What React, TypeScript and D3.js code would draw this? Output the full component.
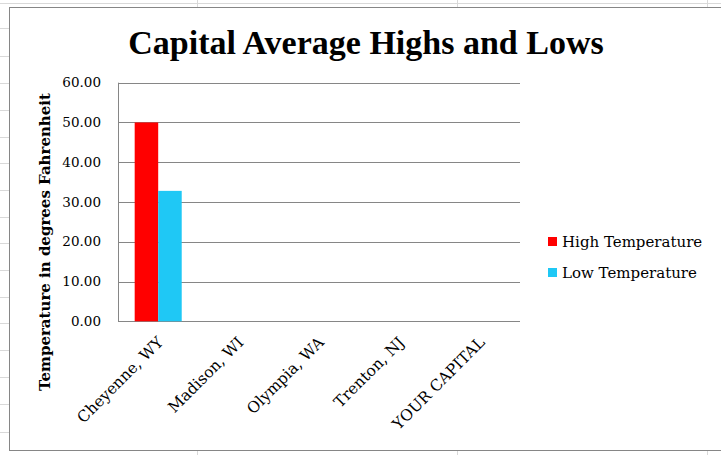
import React from "react";
import * as d3 from "d3";

const categories = ["Cheyenne, WY", "Madison, WI", "Olympia, WA", "Trenton, NJ", "YOUR CAPITAL"];
const highTemps: (number | null)[] = [50.0, null, null, null, null];
const lowTemps: (number | null)[] = [32.8, null, null, null, null];
const seriesNames = ["High Temperature", "Low Temperature"];
const seriesColors = ["#ff0000", "#1fc8f5"];
const yTicks = [0, 10, 20, 30, 40, 50, 60];
const sheetRows = [3, 28, 56, 83, 110, 137, 163, 190, 217, 243, 270, 297, 323, 350, 377, 404, 432];
const sheetCols = [197, 457, 707];

const W = 721;
const H = 455;
const titleFont = "'Liberation Serif', 'Times New Roman', serif";
const font = "'DejaVu Serif', serif";

export default function App() {
  const plot = { left: 118, right: 520, top: 82.7, bottom: 321.3 };
  const p = 0.415;
  const x0 = d3.scaleBand<string>().domain(categories).range([plot.left, plot.right]).paddingInner(p).paddingOuter(p / 2);
  const x1 = d3.scaleBand<string>().domain(seriesNames).range([0, x0.bandwidth()]);
  const y = d3.scaleLinear().domain([0, 60]).range([plot.bottom, plot.top]);
  const series = [highTemps, lowTemps];
  const grid = "#868686";

  return (
    <svg width={W} height={H} style={{ position: "absolute", left: 0, top: 0, background: "#fff" }} fontFamily={font}>
      {/* spreadsheet background */}
      {sheetRows.map((r) => (
        <line key={"r" + r} x1={0} x2={W} y1={r + 0.5} y2={r + 0.5} stroke="#d9d9d9" />
      ))}
      {sheetCols.map((c) => (
        <line key={"c" + c} x1={c + 0.5} x2={c + 0.5} y1={0} y2={H} stroke="#d9d9d9" />
      ))}
      {/* chart frame */}
      <rect x={9.5} y={7.5} width={W + 20} height={443} fill="#fff" stroke="#868686" />

      {/* title */}
      <text x={366} y={54} textAnchor="middle" fontSize={34} fontWeight="bold" fill="#000" fontFamily={titleFont}>
        Capital Average Highs and Lows
      </text>

      {/* gridlines */}
      {yTicks.map((t) => (
        <line key={"g" + t} x1={plot.left} x2={plot.right} y1={Math.round(y(t)) + 0.5} y2={Math.round(y(t)) + 0.5} stroke={grid} strokeWidth={1} />
      ))}
      <line x1={plot.left + 0.5} x2={plot.left + 0.5} y1={y(60)} y2={y(0)} stroke={grid} />

      {/* y tick labels */}
      {yTicks.map((t) => (
        <text key={"yt" + t} x={101} y={y(t) + 4.5} textAnchor="end" fontSize={13.5} fill="#000">
          {d3.format(".2f")(t)}
        </text>
      ))}

      {/* y axis title */}
      <text transform={`translate(50,${(plot.top + plot.bottom) / 2 + 40}) rotate(-90)`} textAnchor="middle" fontSize={15} fontWeight="bold" fill="#000">
        Temperature in degrees Fahrenheit
      </text>

      {/* bars */}
      {categories.map((c, i) => (
        <g key={c}>
          {series.map((s, j) => {
            const v = s[i];
            if (v == null) return null;
            return (
              <rect
                key={j}
                x={(x0(c) as number) + (x1(seriesNames[j]) as number)}
                y={y(v)}
                width={x1.bandwidth()}
                height={y(0) - y(v)}
                fill={seriesColors[j]}
              />
            );
          })}
        </g>
      ))}

      {/* x labels */}
      {categories.map((c) => {
        const cx = (x0(c) as number) + x0.bandwidth() / 2;
        return (
          <text key={"xl" + c} transform={`translate(${cx + 6},${plot.bottom + 22}) rotate(-45)`} textAnchor="end" fontSize={15.5} fill="#000">
            {c}
          </text>
        );
      })}

      {/* legend */}
      {seriesNames.map((n, j) => (
        <g key={n} transform={`translate(548,${237 + j * 31})`}>
          <rect x={0} y={0} width={9} height={9} fill={seriesColors[j]} />
          <text x={14} y={10} fontSize={15} fill="#000">
            {n}
          </text>
        </g>
      ))}
    </svg>
  );
}
